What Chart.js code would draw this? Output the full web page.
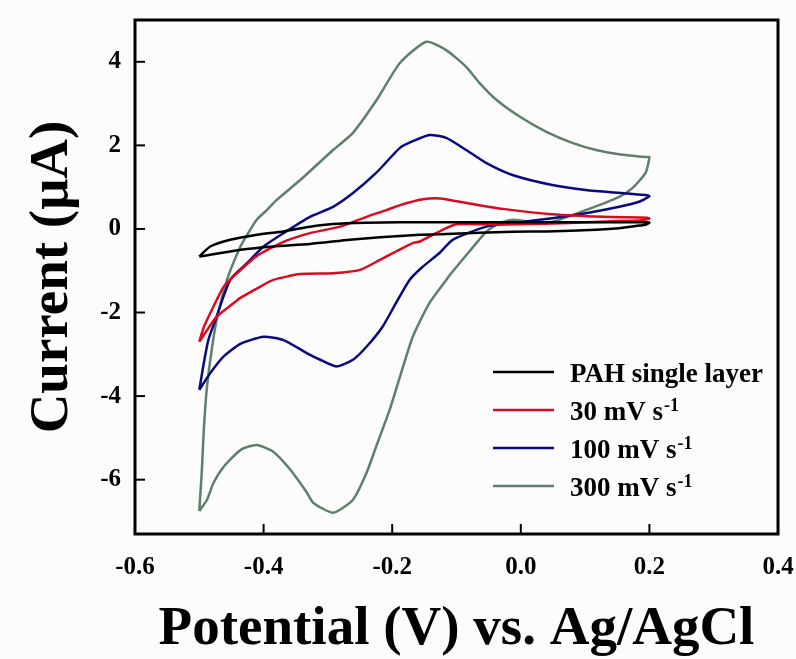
<!DOCTYPE html>
<html>
<head>
<meta charset="utf-8">
<title>Cyclic voltammograms</title>
<script src="https://cdn.jsdelivr.net/npm/chart.js@4.4.0/dist/chart.umd.min.js"></script>
<style>
html, body { margin: 0; padding: 0; background: #fcfcfc; }
#wrap { width: 796px; height: 659px; position: relative; }
</style>
</head>
<body>
<div id="wrap"><canvas id="cvChart"></canvas></div>
<script>
// ------------------------------------------------------
// DATA
// each loop starts at the -0.5 V vertex, anodic sweep first
// ------------------------------------------------------

const xTicks = [-0.6, -0.4, -0.2, 0.0, 0.2, 0.4];
const yTicks = [-6, -4, -2, 0, 2, 4];

const seriesNames = ["PAH single layer", "30 mV s", "100 mV s", "300 mV s"];
const seriesSup = ["", "-1", "-1", "-1"];
const seriesColors = ["#000000", "#dc0a1e", "#0a0a80", "#5f7f6b"];

const potentialPAH = [
    -0.500, -0.483, -0.452, -0.410, -0.369, -0.328, -0.292, -0.240, -0.188, -0.116, -0.013, 0.091, 0.196, 0.200,
    0.194, 0.184, 0.153, 0.117, 0.039, -0.013, -0.116, -0.157, -0.219, -0.266, -0.328, -0.385, -0.436, -0.483, -0.500
];
const currentPAH = [
    -0.66, -0.42, -0.26, -0.14, -0.06, 0.055, 0.12, 0.15, 0.16, 0.16, 0.16, 0.16, 0.16, 0.15,
    0.10, 0.08, 0.017, -0.02, -0.06, -0.065, -0.12, -0.14, -0.20, -0.26, -0.36, -0.42, -0.50, -0.62, -0.66
];

const potential30 = [
    -0.500, -0.493, -0.473, -0.462, -0.447, -0.411, -0.369, -0.328, -0.281, -0.240, -0.209, -0.188, -0.152, -0.126,
    -0.080, -0.028, 0.049, 0.127, 0.197, 0.200,
    0.184, 0.153, 0.075, -0.002, -0.054, -0.100, -0.116, -0.137, -0.157, -0.168, -0.194, -0.219, -0.250, -0.292,
    -0.343, -0.385, -0.405, -0.436, -0.447, -0.473, -0.493, -0.500
];
const current30 = [
    -2.70, -2.35, -1.70, -1.38, -1.14, -0.65, -0.31, -0.10, 0.055, 0.29, 0.45, 0.57, 0.71, 0.73,
    0.61, 0.48, 0.35, 0.29, 0.27, 0.25,
    0.20, 0.19, 0.14, 0.11, 0.11, 0.11, 0.02, -0.14, -0.30, -0.34, -0.54, -0.74, -0.98, -1.06,
    -1.08, -1.22, -1.38, -1.65, -1.78, -2.10, -2.54, -2.70
];

const potential100 = [
    -0.500, -0.493, -0.486, -0.475, -0.452, -0.426, -0.400, -0.369, -0.328, -0.292, -0.261, -0.225, -0.188, -0.168,
    -0.142, -0.116, -0.085, -0.054, -0.013, 0.049, 0.101, 0.163, 0.198, 0.200,
    0.184, 0.153, 0.101, 0.049, -0.002, -0.054, -0.106, -0.126, -0.153, -0.173, -0.194, -0.215, -0.240, -0.261,
    -0.287, -0.312, -0.333, -0.369, -0.400, -0.436, -0.462, -0.483, -0.500
];
const current100 = [
    -3.85, -3.21, -2.66, -2.18, -1.22, -0.82, -0.42, -0.10, 0.29, 0.53, 0.86, 1.34, 1.94, 2.10,
    2.25, 2.18, 1.89, 1.58, 1.29, 1.05, 0.93, 0.85, 0.80, 0.78,
    0.65, 0.53, 0.375, 0.256, 0.16, 0.055, -0.26, -0.57, -0.91, -1.22, -1.77, -2.34, -2.82, -3.13,
    -3.29, -3.13, -2.97, -2.66, -2.58, -2.75, -3.05, -3.45, -3.85
];

const potential300 = [
    -0.500, -0.496, -0.493, -0.488, -0.480, -0.473, -0.457, -0.436, -0.424, -0.411, -0.395, -0.380, -0.343, -0.292,
    -0.261, -0.224, -0.188, -0.147, -0.116, -0.085, -0.064, -0.038, -0.002, 0.039, 0.080, 0.117, 0.153, 0.196, 0.200,
    0.194, 0.173, 0.153, 0.101, 0.049, 0.024, -0.002, -0.018, -0.038, -0.054, -0.080, -0.106, -0.116, -0.142,
    -0.168, -0.188, -0.204, -0.225, -0.240, -0.261, -0.292, -0.323, -0.333, -0.359, -0.385, -0.411, -0.435,
    -0.462, -0.478, -0.488, -0.500
];
const current300 = [
    -6.75, -5.77, -4.81, -3.77, -2.82, -2.18, -1.22, -0.42, -0.10, 0.215, 0.45, 0.69, 1.17, 1.89,
    2.30, 3.09, 3.97, 4.48, 4.28, 3.88, 3.49, 3.09, 2.69, 2.33, 2.06, 1.89, 1.79, 1.72, 1.72,
    1.34, 0.97, 0.77, 0.45, 0.17, 0.14, 0.21, 0.21, 0.10, -0.07, -0.54, -1.02, -1.22, -1.77,
    -2.58, -3.54, -4.33, -5.21, -5.84, -6.48, -6.79, -6.55, -6.30, -5.75, -5.33, -5.17, -5.28,
    -5.69, -6.08, -6.48, -6.75
];

// ------------------------------------------------------
// HELPERS
// ------------------------------------------------------

const serif = "'Liberation Serif', 'Times New Roman', serif";

function toPoints(xs, ys) {
    return xs.map((x, i) => ({ x: x, y: ys[i] }));
}

const seriesData = [
    toPoints(potentialPAH, currentPAH),
    toPoints(potential30, current30),
    toPoints(potential100, current100),
    toPoints(potential300, current300)
];

// frame + inward tick marks
const framePlugin = {
    id: "frame",
    afterDraw(chart) {
        const ctx = chart.ctx;
        const a = chart.chartArea;
        const xs = chart.scales.x;
        const ys = chart.scales.y;
        ctx.save();
        ctx.strokeStyle = "#000";
        ctx.lineWidth = 2;
        xTicks.forEach(v => {
            const px = xs.getPixelForValue(v);
            ctx.beginPath();
            ctx.moveTo(px, a.bottom);
            ctx.lineTo(px, a.bottom - 10);
            ctx.stroke();
        });
        yTicks.forEach(v => {
            const py = ys.getPixelForValue(v);
            ctx.beginPath();
            ctx.moveTo(a.left, py);
            ctx.lineTo(a.left + 10, py);
            ctx.stroke();
        });
        ctx.lineWidth = 3;
        ctx.strokeRect(a.left, a.top, a.right - a.left, a.bottom - a.top);
        ctx.restore();
    }
};

// legend with superscripts, inside lower right of the plot
const legendPlugin = {
    id: "cvLegend",
    afterDraw(chart) {
        const ctx = chart.ctx;
        ctx.save();
        seriesNames.forEach((name, i) => {
            const base = 382 + i * 38;
            ctx.strokeStyle = seriesColors[i];
            ctx.lineWidth = 2.5;
            ctx.beginPath();
            ctx.moveTo(493, base - 10);
            ctx.lineTo(554, base - 10);
            ctx.stroke();
            ctx.fillStyle = "#000";
            ctx.textBaseline = "alphabetic";
            ctx.textAlign = "left";
            ctx.font = "bold 27px " + serif;
            ctx.fillText(name, 570, base);
            if (seriesSup[i]) {
                const w = ctx.measureText(name).width;
                ctx.font = "bold 18px " + serif;
                ctx.fillText(seriesSup[i], 570 + w + 1, base - 9);
            }
        });
        ctx.restore();
    }
};

// ------------------------------------------------------
// CHART
// ------------------------------------------------------

new Chart(document.getElementById("cvChart"), {
    type: "scatter",
    data: {
        datasets: seriesData.map((pts, i) => ({
            label: seriesNames[i],
            data: pts,
            showLine: true,
            borderColor: seriesColors[i],
            backgroundColor: seriesColors[i],
            borderWidth: 2.5,
            pointRadius: 0,
            tension: 0.2
        }))
    },
    options: {
        responsive: true,
        maintainAspectRatio: false,
        animation: false,
        devicePixelRatio: 1,
        layout: { padding: { top: 20, right: 18, left: 0, bottom: 0 } },
        plugins: {
            legend: { display: false },
            tooltip: { enabled: false }
        },
        scales: {
            x: {
                type: "linear",
                position: "bottom",
                min: -0.6,
                max: 0.4,
                afterBuildTicks: s => { s.ticks = xTicks.map(v => ({ value: v })); },
                afterFit: s => {
                    s.height = 125;
                    s.paddingLeft = 0;
                    s.paddingRight = 0;
                },
                grid: { display: false, drawTicks: false },
                border: { display: false },
                ticks: {
                    color: "#000",
                    padding: 19,
                    maxRotation: 0,
                    font: { family: serif, size: 25, weight: "bold" },
                    callback: v => v.toFixed(1)
                },
                title: {
                    display: true,
                    text: "Potential (V) vs. Ag/AgCl",
                    color: "#000",
                    font: { family: serif, size: 55, weight: "bold", lineHeight: 1 },
                    padding: { top: 0, bottom: 2 }
                }
            },
            y: {
                type: "linear",
                min: -7.3,
                max: 5,
                afterBuildTicks: s => { s.ticks = yTicks.map(v => ({ value: v })); },
                afterFit: s => {
                    s.width = 135;
                    s.paddingTop = 0;
                    s.paddingBottom = 0;
                },
                grid: { display: false, drawTicks: false },
                border: { display: false },
                ticks: {
                    color: "#000",
                    padding: 14,
                    font: { family: serif, size: 25, weight: "bold" },
                    callback: v => String(v)
                },
                title: {
                    display: true,
                    text: "Current (\u03bcA)",
                    color: "#000",
                    font: { family: serif, size: 55, weight: "bold", lineHeight: 1 },
                    padding: { top: 25, bottom: 0 }
                }
            }
        }
    },
    plugins: [framePlugin, legendPlugin]
});
</script>
</body>
</html>
